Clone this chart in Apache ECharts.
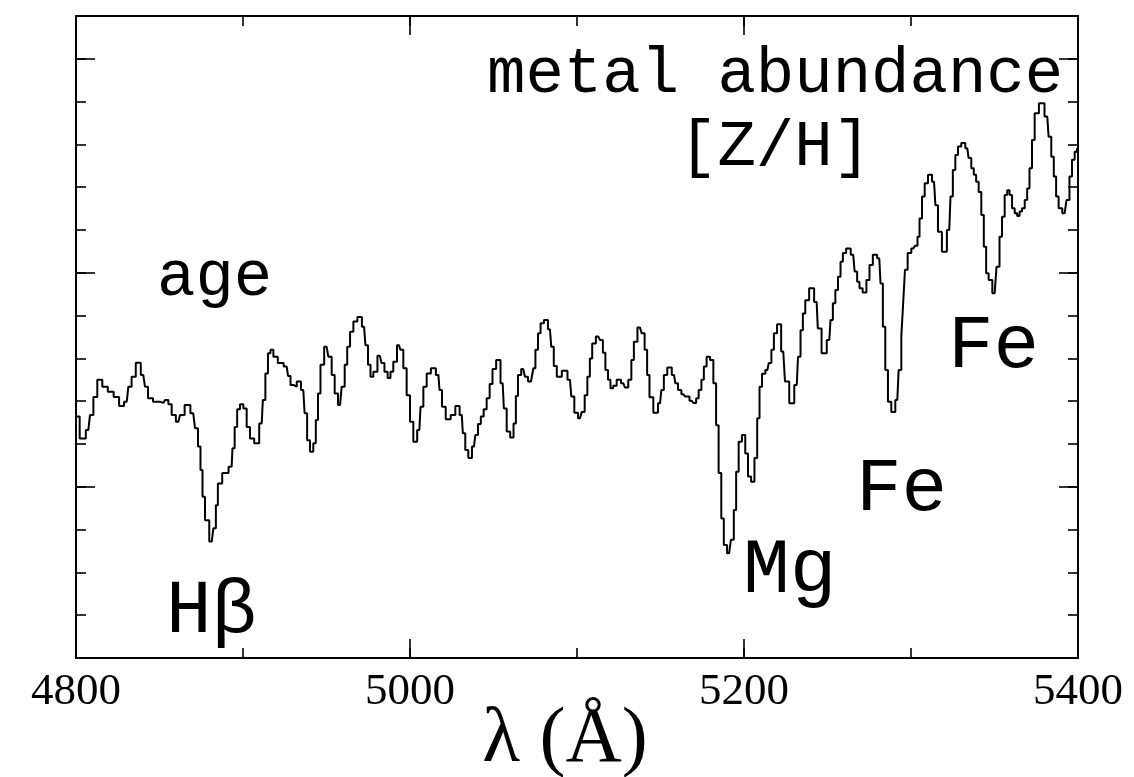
<!DOCTYPE html>
<html>
<head>
<meta charset="utf-8">
<script src="https://cdn.jsdelivr.net/npm/echarts@6/dist/echarts.min.js"></script>
<style>
  html, body { margin: 0; padding: 0; background: #fff; }
  #chart { width: 1134px; height: 777px; }
</style>
</head>
<body>
<div id="chart"></div>
<script>
// Rest-frame wavelength of each spectral bin (Angstrom)
const wavelength = [
  4800.0, 4804.4, 4807.4, 4809.4, 4811.4, 4814.1, 4817.4, 4820.7, 4824.4, 4827.2,
  4830.4, 4832.3, 4834.3, 4837.3, 4840.3, 4842.3, 4843.9, 4848.3, 4852.3, 4854.3,
  4856.3, 4858.3, 4861.3, 4863.3, 4866.8, 4870.2, 4872.3, 4873.8, 4875.3, 4876.2,
  4878.3, 4881.3, 4883.2, 4884.3, 4885.6, 4889.5, 4893.2, 4894.2, 4895.8, 4897.2,
  4899.2, 4901.2, 4903.2, 4905.2, 4908.2, 4911.2, 4912.6, 4914.2, 4915.7, 4917.2,
  4919.2, 4922.5, 4926.2, 4927.7, 4929.2, 4931.1, 4933.3, 4936.1, 4937.7, 4939.1,
  4941.1, 4943.1, 4944.1, 4945.7, 4947.1, 4950.1, 4952.1, 4954.1, 4955.7, 4958.1,
  4960.1, 4961.7, 4963.1, 4965.1, 4967.1, 4969.9, 4972.5, 4974.1, 4975.6, 4977.1,
  4979.0, 4982.0, 4983.8, 4985.6, 4987.6, 4989.0, 4991.0, 4993.4, 4995.0, 4997.0,
  4999.0, 5001.0, 5003.0, 5005.6, 5007.0, 5009.0, 5011.0, 5014.0, 5017.0, 5018.4,
  5019.9, 5022.9, 5025.9, 5028.4, 5031.0, 5032.3, 5033.9, 5035.9, 5038.3, 5039.9,
  5041.5, 5043.3, 5044.9, 5046.9, 5048.5, 5050.3, 5052.9, 5055.5, 5056.9, 5058.9,
  5061.1, 5062.9, 5063.9, 5065.4, 5067.8, 5069.9, 5071.4, 5073.5, 5074.3, 5075.9,
  5077.4, 5079.0, 5081.4, 5083.8, 5085.4, 5086.8, 5089.0, 5092.8, 5095.8, 5097.4,
  5099.4, 5101.8, 5103.8, 5105.4, 5107.0, 5108.4, 5109.8, 5112.8, 5114.8, 5116.2,
  5117.8, 5119.3, 5120.8, 5122.5, 5125.0, 5127.7, 5129.7, 5131.7, 5133.4, 5134.7,
  5137.7, 5139.7, 5141.3, 5142.7, 5144.1, 5147.3, 5149.7, 5151.3, 5152.7, 5155.4,
  5158.1, 5159.7, 5161.3, 5163.7, 5166.0, 5168.7, 5170.7, 5172.0, 5173.7, 5175.3,
  5176.6, 5178.6, 5180.7, 5182.6, 5184.0, 5185.6, 5187.2, 5188.6, 5191.1, 5193.2,
  5194.6, 5196.0, 5197.6, 5199.9, 5201.6, 5203.2, 5205.3, 5207.2, 5208.6, 5210.0,
  5211.6, 5214.0, 5215.6, 5217.2, 5218.6, 5221.0, 5223.5, 5225.6, 5228.6, 5231.6,
  5233.1, 5234.6, 5235.9, 5237.5, 5240.5, 5243.5, 5244.9, 5248.0, 5251.1, 5252.5,
  5253.9, 5255.5, 5257.1, 5258.5, 5259.9, 5262.4, 5265.4, 5267.1, 5268.4, 5269.9,
  5272.2, 5274.4, 5275.9, 5278.4, 5281.0, 5282.5, 5283.8, 5285.4, 5287.0, 5289.4,
  5291.8, 5293.4, 5295.0, 5295.8, 5297.0, 5299.0, 5301.4, 5303.4, 5304.4, 5305.8,
  5307.4, 5309.0, 5311.4, 5313.8, 5315.4, 5316.9, 5320.1, 5322.9, 5324.4, 5325.7,
  5327.4, 5328.9, 5331.3, 5333.7, 5335.3, 5336.9, 5338.3, 5339.7, 5341.3, 5342.9,
  5344.3, 5345.7, 5347.3, 5350.1, 5352.3, 5353.7, 5355.3, 5356.9, 5358.3, 5359.7,
  5361.3, 5362.9, 5364.3, 5365.7, 5367.3, 5368.9, 5370.2, 5371.7, 5373.2, 5374.9,
  5378.3, 5381.6, 5383.2, 5384.8, 5386.2, 5387.6, 5389.2, 5392.0, 5394.2, 5395.6,
  5397.2, 5398.8, 5400.0
];

// Flux in each bin (arbitrary units)
const flux = [
  5.64, 5.13, 5.33, 5.68, 6.10, 6.50, 6.34, 6.22, 6.10, 5.89,
  5.99, 6.34, 6.57, 6.90, 6.61, 6.34, 6.07, 5.99, 5.96, 6.03,
  5.93, 5.68, 5.52, 5.68, 5.91, 5.72, 5.37, 4.94, 4.39, 3.77,
  3.22, 2.72, 3.03, 3.57, 4.08, 4.32, 4.47, 4.90, 5.40, 5.81,
  5.93, 5.83, 5.40, 5.13, 5.02, 5.48, 6.03, 6.65, 7.12, 7.20,
  7.04, 6.89, 6.81, 6.59, 6.38, 6.34, 6.46, 6.26, 5.72, 5.09,
  4.82, 5.02, 5.56, 6.18, 6.85, 7.27, 7.04, 6.61, 6.18, 5.91,
  6.34, 6.85, 7.27, 7.62, 7.86, 7.97, 7.74, 7.31, 6.85, 6.57,
  6.69, 7.06, 6.89, 6.69, 6.54, 6.69, 6.92, 7.31, 7.20, 6.77,
  6.14, 5.52, 5.05, 5.33, 5.87, 6.34, 6.65, 6.77, 6.61, 6.26,
  5.87, 5.58, 5.68, 5.89, 5.68, 5.25, 4.86, 4.67, 4.94, 5.21,
  5.47, 5.64, 5.81, 6.07, 6.40, 6.75, 6.96, 6.42, 5.83, 5.29,
  5.15, 5.48, 6.12, 6.61, 6.75, 6.57, 6.46, 6.50, 6.77, 7.20,
  7.59, 7.82, 7.90, 7.68, 7.27, 6.82, 6.57, 6.71, 6.50, 6.11,
  5.73, 5.60, 5.75, 6.14, 6.57, 7.00, 7.35, 7.51, 7.43, 7.13,
  6.73, 6.50, 6.30, 6.36, 6.50, 6.42, 6.32, 6.50, 6.96, 7.39,
  7.72, 7.59, 7.20, 6.61, 6.09, 5.73, 5.95, 6.26, 6.61, 6.79,
  6.61, 6.42, 6.26, 6.16, 6.11, 6.01, 5.96, 6.07, 6.26, 6.50,
  6.81, 7.04, 6.96, 6.42, 5.44, 4.32, 3.26, 2.64, 2.45, 2.76,
  3.46, 4.35, 5.05, 5.21, 4.78, 4.24, 4.12, 4.67, 5.60, 6.34,
  6.64, 6.73, 6.89, 7.20, 7.59, 7.80, 7.16, 6.46, 5.95, 6.38,
  7.04, 7.66, 8.05, 8.36, 8.64, 8.32, 7.70, 7.12, 7.43, 7.90,
  8.29, 8.60, 8.91, 9.26, 9.46, 9.57, 9.42, 9.03, 8.79, 8.64,
  8.54, 8.83, 9.18, 9.42, 9.34, 8.75, 7.74, 6.73, 5.99, 5.75,
  6.03, 6.73, 7.51, 8.36, 9.07, 9.46, 9.57, 9.63, 9.84, 10.27,
  10.78, 11.09, 11.29, 11.13, 10.58, 9.96, 9.49, 10.00, 10.78, 11.40,
  11.75, 11.95, 12.03, 11.91, 11.68, 11.44, 11.29, 11.13, 10.89, 10.35,
  9.61, 8.99, 8.83, 8.52, 9.14, 9.84, 10.31, 10.82, 10.93, 10.82,
  10.51, 10.39, 10.33, 10.43, 10.51, 10.70, 10.97, 11.44, 12.10, 12.73,
  12.96, 12.65, 12.18, 11.71, 11.25, 10.78, 10.51, 10.39, 10.70, 11.25,
  11.64, 11.83, 11.90
];

// Axis ranges and tick positions
const xRange = [4800, 5400];
const xLabelValues = [4800, 5000, 5200, 5400];
const yRange = [0, 15];
const yMajorTicks = [4, 9, 14];

const chart = echarts.init(document.getElementById('chart'), null, { renderer: 'canvas' });

const ink = '#000';
const serif = '"Liberation Serif", "DejaVu Serif", serif';
const mono = '"Liberation Mono", "DejaVu Sans Mono", monospace';

function xAxisDef(position, interval, tickLen, withLine, withLabels) {
  const ax = {
    type: 'value', position: position, min: xRange[0], max: xRange[1], interval: interval,
    axisLine: { show: withLine, onZero: false, lineStyle: { color: ink, width: 2 } },
    axisTick: { show: true, inside: true, length: tickLen, lineStyle: { color: ink, width: 1.6 } },
    axisLabel: { show: false },
    splitLine: { show: false }
  };
  if (withLabels) {
    ax.axisLabel = {
      show: true, color: ink, fontFamily: serif, fontSize: 45, margin: 12,
      formatter: v => (xLabelValues.indexOf(v) >= 0 ? String(v) : '')
    };
    ax.name = 'λ (Å)';
    ax.nameLocation = 'middle';
    ax.nameGap = 44;
    ax.nameMoveOverlap = false;
    ax.nameTextStyle = {
      color: ink, fontFamily: serif, fontSize: 78, verticalAlign: 'top',
      padding: [0, 24, 0, 0]
    };
  }
  return ax;
}

function yAxisDef(position, tickLen, withLine, custom) {
  const tick = { show: true, inside: true, length: tickLen, lineStyle: { color: ink, width: 1.6 } };
  if (custom) tick.customValues = custom;
  return {
    type: 'value', position: position, min: yRange[0], max: yRange[1], interval: 1,
    axisLine: { show: withLine, onZero: false, lineStyle: { color: ink, width: 2 } },
    axisTick: tick,
    axisLabel: { show: false },
    splitLine: { show: false }
  };
}

// Annotation text placed in the plot
function note(text, x, y, size, family) {
  return {
    type: 'text', x: x, y: y, silent: true,
    style: { text: text, fill: ink, font: size + 'px ' + family, align: 'left', verticalAlign: 'middle' }
  };
}

const option = {
  animation: false,
  backgroundColor: '#fff',
  grid: { left: 76, right: 56, top: 16, bottom: 119, containLabel: false, outerBoundsMode: 'none' },
  xAxis: [
    xAxisDef('bottom', 100, 10, true, true),
    xAxisDef('bottom', 200, 19, false, false),
    xAxisDef('top', 100, 10, true, false),
    xAxisDef('top', 200, 19, false, false)
  ],
  yAxis: [
    yAxisDef('left', 10, true, null),
    yAxisDef('left', 19, false, yMajorTicks),
    yAxisDef('right', 10, true, null),
    yAxisDef('right', 19, false, yMajorTicks)
  ],
  series: [{
    type: 'line',
    xAxisIndex: 0,
    yAxisIndex: 0,
    step: 'middle',
    showSymbol: false,
    clip: true,
    lineStyle: { color: ink, width: 2 },
    data: wavelength.map((w, i) => [w, flux[i]])
  }],
  graphic: [
    note('metal abundance', 487, 75, 64, mono),
    note('[Z/H]', 679, 148, 64, mono),
    note('age', 157, 278, 64, mono),
    note('Hβ', 166, 612, 76, mono),
    note('Mg', 743, 571, 78, mono),
    note('Fe', 856, 490, 76, mono),
    note('Fe', 948, 347, 76, mono)
  ]
};

chart.setOption(option);
</script>
</body>
</html>
